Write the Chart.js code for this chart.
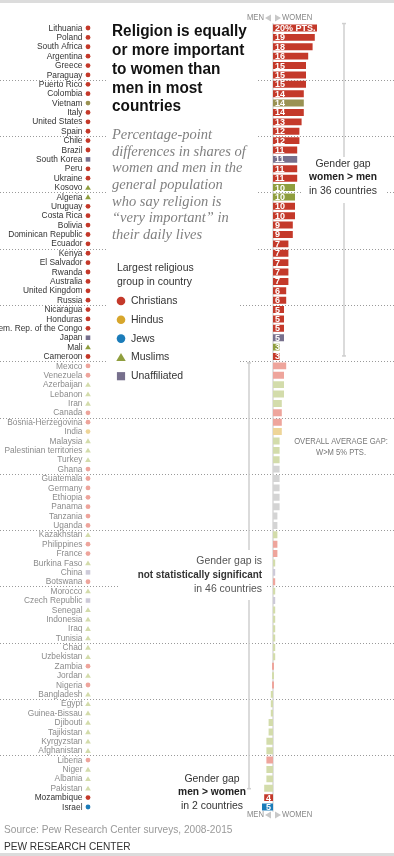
<!DOCTYPE html>
<html>
<head>
<meta charset="utf-8">
<script src="https://cdn.jsdelivr.net/npm/chart.js@4.4.0/dist/chart.umd.min.js"></script>
<style>
  html, body { margin: 0; padding: 0; background: #fff; }
  #wrap { position: relative; width: 394px; height: 856px; }
</style>
</head>
<body>
<div id="wrap"><canvas id="gapChart" width="394" height="856"></canvas></div>
<script>
// countries, top to bottom
const countries = [
  'Lithuania', 'Poland', 'South Africa', 'Argentina', 'Greece', 'Paraguay',
  'Puerto Rico', 'Colombia', 'Vietnam', 'Italy', 'United States', 'Spain',
  'Chile', 'Brazil', 'South Korea', 'Peru', 'Ukraine', 'Kosovo',
  'Algeria', 'Uruguay', 'Costa Rica', 'Bolivia', 'Dominican Republic', 'Ecuador',
  'Kenya', 'El Salvador', 'Rwanda', 'Australia', 'United Kingdom', 'Russia',
  'Nicaragua', 'Honduras', 'Dem. Rep. of the Congo', 'Japan', 'Mali', 'Cameroon',
  'Mexico', 'Venezuela', 'Azerbaijan', 'Lebanon', 'Iran', 'Canada',
  'Bosnia-Herzegovina', 'India', 'Malaysia', 'Palestinian territories', 'Turkey', 'Ghana',
  'Guatemala', 'Germany', 'Ethiopia', 'Panama', 'Tanzania', 'Uganda',
  'Kazakhstan', 'Philippines', 'France', 'Burkina Faso', 'China', 'Botswana',
  'Morocco', 'Czech Republic', 'Senegal', 'Indonesia', 'Iraq', 'Tunisia',
  'Chad', 'Uzbekistan', 'Zambia', 'Jordan', 'Nigeria', 'Bangladesh',
  'Egypt', 'Guinea-Bissau', 'Djibouti', 'Tajikistan', 'Kyrgyzstan', 'Afghanistan',
  'Liberia', 'Niger', 'Albania', 'Pakistan', 'Mozambique', 'Israel'
];

// women minus men, percentage points
const gaps = [
  20, 19, 18, 16, 15, 15,
  15, 14, 14, 14, 13, 12,
  12, 11, 11, 11, 11, 10,
  10, 10, 10, 9, 9, 7,
  7, 7, 7, 7, 6, 6,
  5, 5, 5, 5, 3, 3,
  6, 5, 5, 5, 4, 4,
  4, 4, 3, 3, 3, 3,
  3, 3, 3, 3, 2, 2,
  2, 2, 2, 1, 1, 1,
  1, 1, 1, 1, 1, 1,
  1, 1, 0, 0, 0, -1,
  -1, -1, -2, -2, -3, -3,
  -3, -3, -3, -4, -4, -5
];

// largest religious group: C christians, H hindus, J jews, M muslims, U unaffiliated, F folk
const groups = [
  'C', 'C', 'C', 'C', 'C', 'C',
  'C', 'C', 'F', 'C', 'C', 'C',
  'C', 'C', 'U', 'C', 'C', 'M',
  'M', 'C', 'C', 'C', 'C', 'C',
  'C', 'C', 'C', 'C', 'C', 'C',
  'C', 'C', 'C', 'U', 'M', 'C',
  'C', 'C', 'M', 'M', 'M', 'C',
  'C', 'H', 'M', 'M', 'M', 'C',
  'C', 'C', 'C', 'C', 'C', 'C',
  'M', 'C', 'C', 'M', 'U', 'C',
  'M', 'U', 'M', 'M', 'M', 'M',
  'M', 'M', 'C', 'M', 'C', 'M',
  'M', 'M', 'M', 'M', 'M', 'M',
  'C', 'M', 'M', 'M', 'C', 'J'
];

// blocks of rows: significant w>m, not significant, significant m>w
const blockNames = ['women > men', 'not significant', 'men > women'];
const blockSizes = [36, 46, 2];

const grayBars = ['Ghana', 'Guatemala', 'Germany', 'Ethiopia', 'Panama', 'Tanzania', 'Uganda'];

const legendNames = ['Christians', 'Hindus', 'Jews', 'Muslims', 'Unaffiliated'];
const legendKeys = ['C', 'H', 'J', 'M', 'U'];

const fullCol = { C: '#c4392a', H: '#d7a62c', J: '#1b7cb9', M: '#8f9e3e', U: '#77708d', F: '#9a9253' };
const lightCol = { C: '#eea59c', H: '#eed598', J: '#9cc6e3', M: '#d3dcab', U: '#cdcad8', F: '#d6d3b0' };

const significant = [];
blockSizes.forEach((n, b) => { for (let k = 0; k < n; k++) significant.push(b !== 1); });

const barColors = countries.map((c, i) => {
  if (significant[i]) return fullCol[groups[i]];
  if (grayBars.includes(c)) return '#d4d4d4';
  return lightCol[groups[i]];
});

function txt(ctx, s, x, y, font, color, align, sx) {
  ctx.save();
  ctx.font = font;
  ctx.fillStyle = color;
  ctx.textBaseline = 'middle';
  ctx.textAlign = align || 'left';
  ctx.translate(x, y);
  ctx.scale(sx || 1, 1);
  ctx.fillText(s, 0, 0);
  ctx.restore();
}

function marker(ctx, key, x, y, r, color) {
  ctx.fillStyle = color;
  ctx.beginPath();
  if (key === 'M') {
    ctx.moveTo(x, y - r); ctx.lineTo(x + r * 1.1, y + r * 0.85); ctx.lineTo(x - r * 1.1, y + r * 0.85);
    ctx.closePath(); ctx.fill();
  } else if (key === 'U') {
    ctx.fillRect(x - r * 0.95, y - r * 0.95, r * 1.9, r * 1.9);
  } else {
    ctx.arc(x, y, r, 0, Math.PI * 2); ctx.fill();
  }
}

function vline(ctx, x, y1, y2) {
  ctx.strokeStyle = '#cfcfcf';
  ctx.lineWidth = 1.5;
  ctx.beginPath(); ctx.moveTo(x, y1); ctx.lineTo(x, y2); ctx.stroke();
}

function menWomen(ctx, x0, y) {
  txt(ctx, 'MEN', x0 - 9, y, '9px "Liberation Sans"', '#888', 'right', 0.85);
  txt(ctx, 'WOMEN', x0 + 9, y, '9px "Liberation Sans"', '#888', 'left', 0.85);
  ctx.fillStyle = '#c8c8c8';
  ctx.beginPath(); ctx.moveTo(x0 - 8, y); ctx.lineTo(x0 - 2, y - 3.5); ctx.lineTo(x0 - 2, y + 3.5); ctx.fill();
  ctx.beginPath(); ctx.moveTo(x0 + 8, y); ctx.lineTo(x0 + 2, y - 3.5); ctx.lineTo(x0 + 2, y + 3.5); ctx.fill();
}

const decor = {
  id: 'decor',
  beforeDatasetsDraw(chart) {
    const ctx = chart.ctx, x = chart.scales.x, y = chart.scales.y;
    const x0 = x.getPixelForValue(0);
    ctx.save();
    // borders
    ctx.fillStyle = '#dcdcdc';
    ctx.fillRect(0, 0, 394, 3);
    ctx.fillRect(0, 853, 394, 3);
    // dotted row separators
    ctx.strokeStyle = '#9a9a9a';
    ctx.lineWidth = 1;
    ctx.setLineDash([1, 2]);
    for (let i = 5; i < countries.length - 6; i += 6) {
      const yy = Math.round((y.getPixelForValue(i) + y.getPixelForValue(i + 1)) / 2) + 0.5;
      ctx.beginPath(); ctx.moveTo(0, yy); ctx.lineTo(394, yy); ctx.stroke();
    }
    ctx.setLineDash([]);
    // zero line
    ctx.strokeStyle = '#d8d8d8';
    ctx.lineWidth = 1.5;
    ctx.beginPath(); ctx.moveTo(x0, chart.chartArea.top); ctx.lineTo(x0, chart.chartArea.bottom); ctx.stroke();
    ctx.restore();
  },
  afterDatasetsDraw(chart) {
    const ctx = chart.ctx, x = chart.scales.x, y = chart.scales.y;
    const x0 = x.getPixelForValue(0);
    ctx.save();

    // white panels for text blocks
    ctx.fillStyle = '#fff';
    ctx.fillRect(106, 16, 151, 238);
    ctx.fillRect(106, 254, 132, 131);
    ctx.fillRect(303, 156, 82, 42);
    ctx.fillRect(120, 552, 145, 46);

    // country labels, markers and bar values
    countries.forEach((c, i) => {
      const yy = y.getPixelForValue(i);
      const sig = significant[i];
      txt(ctx, c, 82.5, yy, '9.5px "Liberation Sans"', sig ? '#333' : '#8c8c8c', 'right', 0.88);
      const g = groups[i];
      marker(ctx, g, 88, yy, g === 'M' ? 2.6 : 2.4, sig ? fullCol[g] : lightCol[g]);
      if (sig) {
        const v = gaps[i];
        const lab = i === 0 ? v + '% PTS.' : String(Math.abs(v));
        if (v >= 0) txt(ctx, lab, x0 + 2, yy + 0.5, 'bold 9px "Liberation Sans"', '#fff', 'left');
        else txt(ctx, lab, x0 - 2, yy + 0.5, 'bold 9px "Liberation Sans"', '#fff', 'right');
      }
    });

    // title
    const title = ['Religion is equally', 'or more important', 'to women than', 'men in most', 'countries'];
    title.forEach((t, k) => txt(ctx, t, 112, 32 + k * 18.75, 'bold 16px "Liberation Sans"', '#111', 'left', 0.96));
    const sub = ['Percentage-point', 'differences in shares of', 'women and men in the', 'general population',
      'who say religion is', '\u201cvery important\u201d in', 'their daily lives'];
    sub.forEach((t, k) => txt(ctx, t, 112, 135 + k * 16.7, 'italic 14.5px "Liberation Serif"', '#808080', 'left'));

    // legend
    txt(ctx, 'Largest religious', 117, 268, '11px "Liberation Sans"', '#333', 'left', 0.95);
    txt(ctx, 'group in country', 117, 282, '11px "Liberation Sans"', '#333', 'left', 0.95);
    legendNames.forEach((n, k) => {
      const yy = 301 + k * 18.8;
      marker(ctx, legendKeys[k], 121, yy, 4.3, fullCol[legendKeys[k]]);
      txt(ctx, n, 131, yy, '11px "Liberation Sans"', '#333', 'left', 0.95);
    });

    // men / women arrows
    menWomen(ctx, x0, 18);
    menWomen(ctx, x0, 815);

    // bracket, women > men
    const topY = chart.chartArea.top;
    const sigEnd = (y.getPixelForValue(blockSizes[0] - 1) + y.getPixelForValue(blockSizes[0])) / 2;
    vline(ctx, 344, topY, 157);
    vline(ctx, 344, 203, sigEnd - 5);
    ctx.fillStyle = '#cfcfcf';
    ctx.fillRect(342, topY - 0.5, 4, 1.5);
    ctx.fillRect(342, sigEnd - 6, 4, 1.5);
    txt(ctx, 'Gender gap', 343, 163.5, '11px "Liberation Sans"', '#333', 'center', 0.95);
    txt(ctx, 'women > men', 343, 177, 'bold 11px "Liberation Sans"', '#222', 'center', 0.93);
    txt(ctx, 'in ' + blockSizes[0] + ' countries', 343, 190.5, '11px "Liberation Sans"', '#333', 'center', 0.95);

    // average note
    txt(ctx, 'OVERALL AVERAGE GAP:', 341, 441, '9.5px "Liberation Sans"', '#777', 'center', 0.8);
    txt(ctx, 'W>M 5% PTS.', 341, 452, '9.5px "Liberation Sans"', '#777', 'center', 0.8);

    // bracket, not significant
    const nsStart = sigEnd + 1;
    const nsEnd = (y.getPixelForValue(blockSizes[0] + blockSizes[1] - 1) + y.getPixelForValue(blockSizes[0] + blockSizes[1])) / 2 - 4;
    vline(ctx, 249, nsStart, 550);
    vline(ctx, 249, 600, nsEnd);
    ctx.fillStyle = '#cfcfcf';
    ctx.fillRect(247, nsStart, 4, 1.5);
    ctx.fillRect(247, nsEnd - 1, 4, 1.5);
    txt(ctx, 'Gender gap is', 262, 561, '11px "Liberation Sans"', '#555', 'right', 0.95);
    txt(ctx, 'not statistically significant', 262, 575, 'bold 11px "Liberation Sans"', '#333', 'right', 0.9);
    txt(ctx, 'in ' + blockSizes[1] + ' countries', 262, 588.5, '11px "Liberation Sans"', '#555', 'right', 0.95);

    // men > women note
    txt(ctx, 'Gender gap', 212, 779, '11px "Liberation Sans"', '#333', 'center', 0.95);
    txt(ctx, 'men > women', 212, 792, 'bold 11px "Liberation Sans"', '#222', 'center', 0.93);
    txt(ctx, 'in ' + blockSizes[2] + ' countries', 212, 805.5, '11px "Liberation Sans"', '#333', 'center', 0.95);

    // footer
    txt(ctx, 'Source: Pew Research Center surveys, 2008-2015', 4, 830, '11px "Liberation Sans"', '#999', 'left', 0.92);
    txt(ctx, 'PEW RESEARCH CENTER', 4, 847, '11px "Liberation Sans"', '#333', 'left', 0.92);

    ctx.restore();
  }
};

new Chart(document.getElementById('gapChart'), {
  type: 'bar',
  data: {
    labels: countries,
    datasets: [{
      data: gaps,
      backgroundColor: barColors,
      borderWidth: 0,
      barPercentage: 0.74,
      categoryPercentage: 1,
      minBarLength: 2
    }]
  },
  options: {
    indexAxis: 'y',
    responsive: false,
    animation: false,
    devicePixelRatio: 1,
    layout: { padding: { left: 259.8, right: 0, top: 23.3, bottom: 44.3 } },
    scales: {
      x: { display: false, min: -6, max: 55 },
      y: { display: false }
    },
    plugins: { legend: { display: false }, tooltip: { enabled: false } }
  },
  plugins: [decor]
});
</script>
</body>
</html>
